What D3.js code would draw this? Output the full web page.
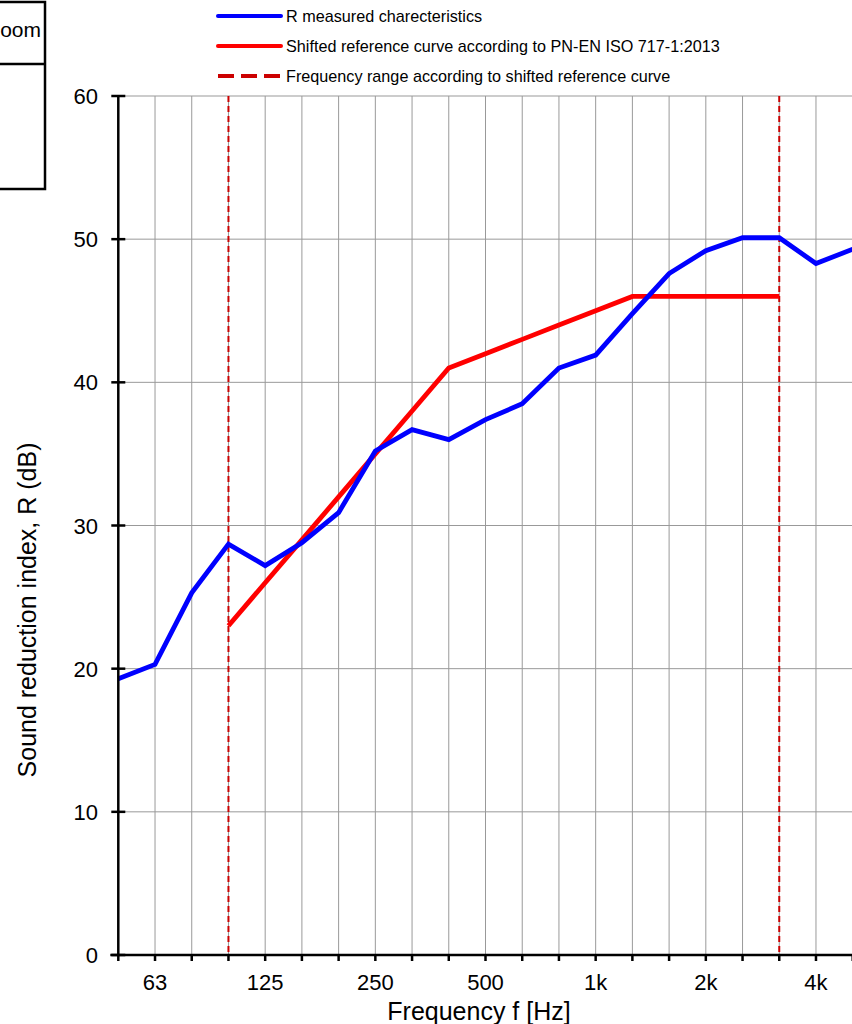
<!DOCTYPE html>
<html>
<head>
<meta charset="utf-8">
<script src="https://cdn.jsdelivr.net/npm/d3@7"></script>
<style>
  body { margin: 0; background: #fff; }
  svg { display: block; font-family: Arial, "Liberation Sans", sans-serif; }
</style>
</head>
<body>
<svg></svg>
<script>
// 1/3 octave bands
const bands = [50, 63, 80, 100, 125, 160, 200, 250, 315, 400, 500, 630, 800, 1000, 1250, 1600, 2000, 2500, 3150, 4000, 5000];
const bandLabels = ["63", "125", "250", "500", "1k", "2k", "4k"];
const labelBands = [63, 125, 250, 500, 1000, 2000, 4000];

// measured R
const measured = [19.3, 20.3, 25.3, 28.7, 27.2, 28.8, 30.9, 35.2, 36.7, 36.0, 37.4, 38.5, 41.0, 41.9, 44.8, 47.6, 49.2, 50.1, 50.1, 48.3, 49.3];

// shifted reference curve 100..3150 Hz
const refBands = [100, 125, 160, 200, 250, 315, 400, 500, 630, 800, 1000, 1250, 1600, 2000, 2500, 3150];
const refValues = [23, 26, 29, 32, 35, 38, 41, 42, 43, 44, 45, 46, 46, 46, 46, 46];

const rangeBands = [100, 3150];
const yTicks = [0, 10, 20, 30, 40, 50, 60];

const legendItems = [
    "R measured charecteristics",
    "Shifted reference curve according to PN-EN ISO 717-1:2013",
    "Frequency range according to shifted reference curve"
];

const width = 852, height = 1024;
const svg = d3.select("svg").attr("width", width).attr("height", height);

const x = d3.scalePoint().domain(bands).range([118.3, 852.7]);
const y = d3.scaleLinear().domain([0, 60]).range([955, 96]);

// grid
const grid = svg.append("g").attr("stroke", "#999").attr("stroke-width", 1);
grid.selectAll(".vg").data(bands).join("line")
    .attr("x1", d => x(d)).attr("x2", d => x(d))
    .attr("y1", y(60)).attr("y2", y(0));
grid.selectAll(".hg").data(yTicks).join("line")
    .attr("x1", x(50)).attr("x2", 853)
    .attr("y1", d => y(d)).attr("y2", d => y(d));

// frequency range (dashed verticals)
svg.append("g").selectAll("line").data(rangeBands).join("line")
    .attr("x1", d => x(d)).attr("x2", d => x(d))
    .attr("y1", y(60)).attr("y2", y(0))
    .attr("stroke", "#cc0000").attr("stroke-width", 2)
    .attr("stroke-dasharray", "6,4");

// curves
const line = d3.line().x(d => x(d[0])).y(d => y(d[1]));
svg.append("path")
    .datum(refBands.map((b, i) => [b, refValues[i]]))
    .attr("d", line).attr("fill", "none")
    .attr("stroke", "#ff0000").attr("stroke-width", 4.8);
svg.append("path")
    .datum(bands.map((b, i) => [b, measured[i]]))
    .attr("d", line).attr("fill", "none")
    .attr("stroke", "#0000ff").attr("stroke-width", 4.8);

// axes
const xAxis = svg.append("g");
xAxis.append("line").attr("x1", x(50) - 8).attr("x2", 853).attr("y1", y(0)).attr("y2", y(0))
    .attr("stroke", "#000").attr("stroke-width", 2.5);
xAxis.selectAll(".tk").data(bands).join("line")
    .attr("x1", d => x(d)).attr("x2", d => x(d))
    .attr("y1", y(0)).attr("y2", y(0) + 6)
    .attr("stroke", "#000").attr("stroke-width", 2.5);
xAxis.selectAll("text").data(labelBands).join("text")
    .attr("x", d => x(d)).attr("y", 990)
    .attr("text-anchor", "middle").attr("font-size", 22)
    .text((d, i) => bandLabels[i]);

const yAxis = svg.append("g");
yAxis.append("line").attr("x1", x(50)).attr("x2", x(50)).attr("y1", y(60)).attr("y2", y(0))
    .attr("stroke", "#000").attr("stroke-width", 2.5);
yAxis.selectAll(".tk").data(yTicks).join("line")
    .attr("x1", x(50) - 7).attr("x2", x(50) + 7)
    .attr("y1", d => y(d)).attr("y2", d => y(d))
    .attr("stroke", "#000").attr("stroke-width", 2.5);
yAxis.selectAll("text").data(yTicks).join("text")
    .attr("x", 98).attr("y", d => y(d) + 8)
    .attr("text-anchor", "end").attr("font-size", 22)
    .text(d => d);

// axis titles
svg.append("text").attr("x", 479).attr("y", 1020)
    .attr("text-anchor", "middle").attr("font-size", 25)
    .text("Frequency f [Hz]");
svg.append("text")
    .attr("transform", "translate(36,610) rotate(-90)")
    .attr("text-anchor", "middle").attr("font-size", 25)
    .text("Sound reduction index, R (dB)");

// legend
const leg = svg.append("g");
const legY = [16, 46, 76];
const legStroke = ["#0000ff", "#ff0000", "#cc0000"];
legendItems.forEach((t, i) => {
    leg.append("line").attr("x1", 218).attr("x2", 281)
        .attr("y1", legY[i]).attr("y2", legY[i])
        .attr("stroke", legStroke[i]).attr("stroke-width", 4)
        .attr("stroke-linecap", i < 2 ? "round" : "butt")
        .attr("stroke-dasharray", i == 2 ? "16,7" : null);
    leg.append("text").attr("x", 286).attr("y", legY[i] + 6)
        .attr("font-size", 16.2).text(t);
});

// table fragment top-left (only the right end of its text is visible)
const box = svg.append("g").attr("fill", "none").attr("stroke", "#000").attr("stroke-width", 2.5);
box.append("rect").attr("x", -10).attr("y", 2).attr("width", 55).attr("height", 187);
box.append("line").attr("x1", -10).attr("x2", 45).attr("y1", 64).attr("y2", 64);
svg.append("text").attr("x", 41).attr("y", 37).attr("text-anchor", "end")
    .attr("font-size", 21).text("oom");
</script>
</body>
</html>
